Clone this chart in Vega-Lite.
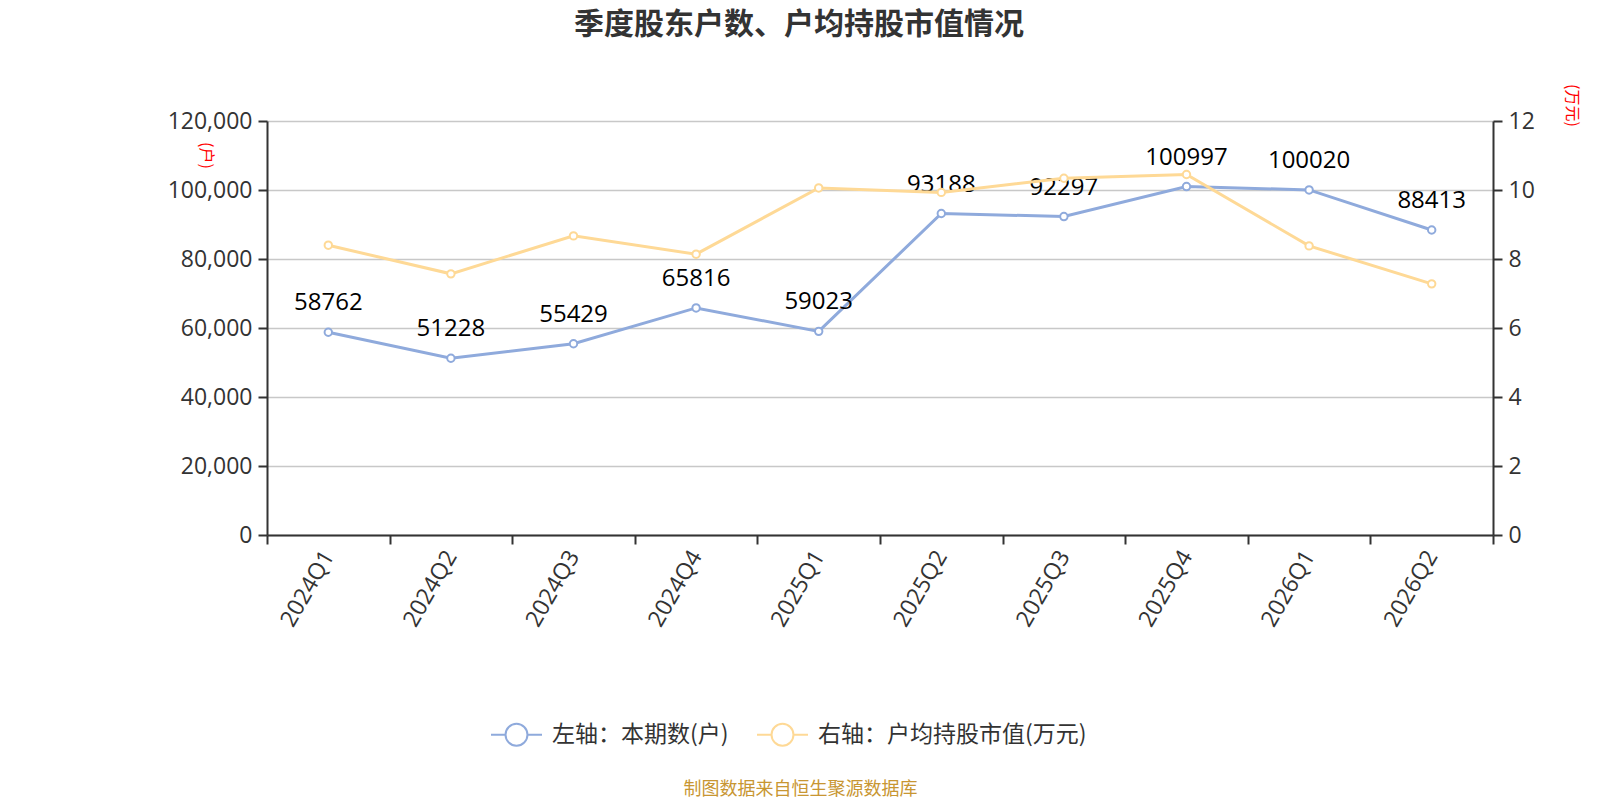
{
  "$schema": "https://vega.github.io/schema/vega-lite/v6.json",
  "autosize": {"type": "none"},
  "padding": {"left": 267, "top": 121, "right": 107, "bottom": 265},
  "width": 1226,
  "height": 414,
  "background": "white",
  "title": {
    "text": "季度股东户数、户均持股市值情况",
    "fontSize": 30,
    "fontWeight": "bold",
    "color": "#333333",
    "anchor": "middle",
    "frame": "group",
    "dx": -81,
    "offset": 44
  },
  "data": {
    "values": [
      {"quarter": "2024Q1", "holders": 58762, "avgValue": 8.40},
      {"quarter": "2024Q2", "holders": 51228, "avgValue": 7.57},
      {"quarter": "2024Q3", "holders": 55429, "avgValue": 8.67},
      {"quarter": "2024Q4", "holders": 65816, "avgValue": 8.14},
      {"quarter": "2025Q1", "holders": 59023, "avgValue": 10.06},
      {"quarter": "2025Q2", "holders": 93188, "avgValue": 9.93},
      {"quarter": "2025Q3", "holders": 92297, "avgValue": 10.34},
      {"quarter": "2025Q4", "holders": 100997, "avgValue": 10.45},
      {"quarter": "2026Q1", "holders": 100020, "avgValue": 8.38},
      {"quarter": "2026Q2", "holders": 88413, "avgValue": 7.28}
    ]
  },
  "encoding": {
    "x": {
      "field": "quarter",
      "type": "ordinal",
      "sort": null,
      "bandPosition": 0.5,
      "scale": {"type": "band", "paddingInner": 0, "paddingOuter": 0},
      "axis": {
        "title": "制图数据来自恒生聚源数据库",
        "titleColor": "#c89632",
        "titleFontSize": 18,
        "titleFontWeight": "normal",
        "titleFont": "Noto Sans CJK SC",
        "titleX": 533,
        "titleY": 254,
        "titleAlign": "center",
        "titleBaseline": "middle",
        "tickBand": "extent",
        "labelAngle": -60,
        "labelAlign": "right",
        "labelBaseline": "middle",
        "labelPadding": 8,
        "grid": false
      }
    }
  },
  "layer": [
    {
      "mark": {
        "type": "line",
        "strokeWidth": 3,
        "point": {"filled": false, "fill": "white", "size": 55, "strokeWidth": 2}
      },
      "encoding": {
        "y": {
          "field": "holders",
          "type": "quantitative",
          "scale": {"domain": [0, 120000]},
          "axis": {
            "title": "(户)",
            "titleColor": "red",
            "titleFontSize": 16,
            "titleFontWeight": "normal",
            "titleFont": "Noto Sans CJK SC",
            "titleAngle": 90,
            "titleX": -62,
            "titleY": 34,
            "titleAlign": "center",
            "titleBaseline": "middle",
            "values": [0, 20000, 40000, 60000, 80000, 100000, 120000],
            "format": ",d",
            "grid": true
          }
        },
        "color": {"datum": "左轴：本期数(户)"}
      }
    },
    {
      "mark": {
        "type": "text",
        "fontSize": 24,
        "color": "#000000",
        "dy": -29,
        "align": "center",
        "baseline": "middle"
      },
      "encoding": {
        "y": {
          "field": "holders",
          "type": "quantitative",
          "scale": {"domain": [0, 120000]},
          "axis": null
        },
        "text": {"field": "holders", "type": "quantitative", "format": "d"}
      }
    },
    {
      "mark": {
        "type": "line",
        "strokeWidth": 3,
        "point": {"filled": false, "fill": "white", "size": 55, "strokeWidth": 2}
      },
      "encoding": {
        "y": {
          "field": "avgValue",
          "type": "quantitative",
          "scale": {"domain": [0, 12]},
          "axis": {
            "orient": "right",
            "title": "(万元)",
            "titleColor": "red",
            "titleFontSize": 16,
            "titleFontWeight": "normal",
            "titleFont": "Noto Sans CJK SC",
            "titleAngle": 90,
            "titleX": 78,
            "titleY": -16,
            "titleAlign": "center",
            "titleBaseline": "middle",
            "values": [0, 2, 4, 6, 8, 10, 12],
            "grid": false
          }
        },
        "color": {
          "datum": "右轴：户均持股市值(万元)",
          "scale": {
            "domain": ["左轴：本期数(户)", "右轴：户均持股市值(万元)"],
            "range": ["#8faadc", "#fed996"]
          },
          "legend": {
            "title": null,
            "orient": "none",
            "direction": "horizontal",
            "legendX": 223,
            "legendY": 587,
            "labelFontSize": 23,
            "labelColor": "#333333",
            "labelFont": "Noto Sans CJK SC",
            "labelLimit": 0,
            "symbolType": "M-1,0H-0.43M0.43,0H1M0.43,0A0.43,0.43,0,1,1,-0.43,0A0.43,0.43,0,1,1,0.43,0Z",
            "symbolSize": 2601,
            "symbolStrokeWidth": 2,
            "symbolFillColor": "white",
            "columnPadding": 24,
            "labelOffset": 9
          }
        }
      }
    }
  ],
  "resolve": {"scale": {"y": "independent"}, "axis": {"y": "independent"}},
  "config": {
    "font": "Open Sans, Noto Sans CJK SC",
    "view": {"stroke": null},
    "title": {"font": "Noto Sans CJK SC"},
    "axis": {
      "labelFontSize": 23,
      "labelColor": "#333333",
      "labelPadding": 6,
      "domainColor": "#333333",
      "domainWidth": 2,
      "tickColor": "#333333",
      "tickWidth": 2,
      "tickSize": 9,
      "gridColor": "#c8c8c8",
      "gridWidth": 1.5
    }
  }
}
